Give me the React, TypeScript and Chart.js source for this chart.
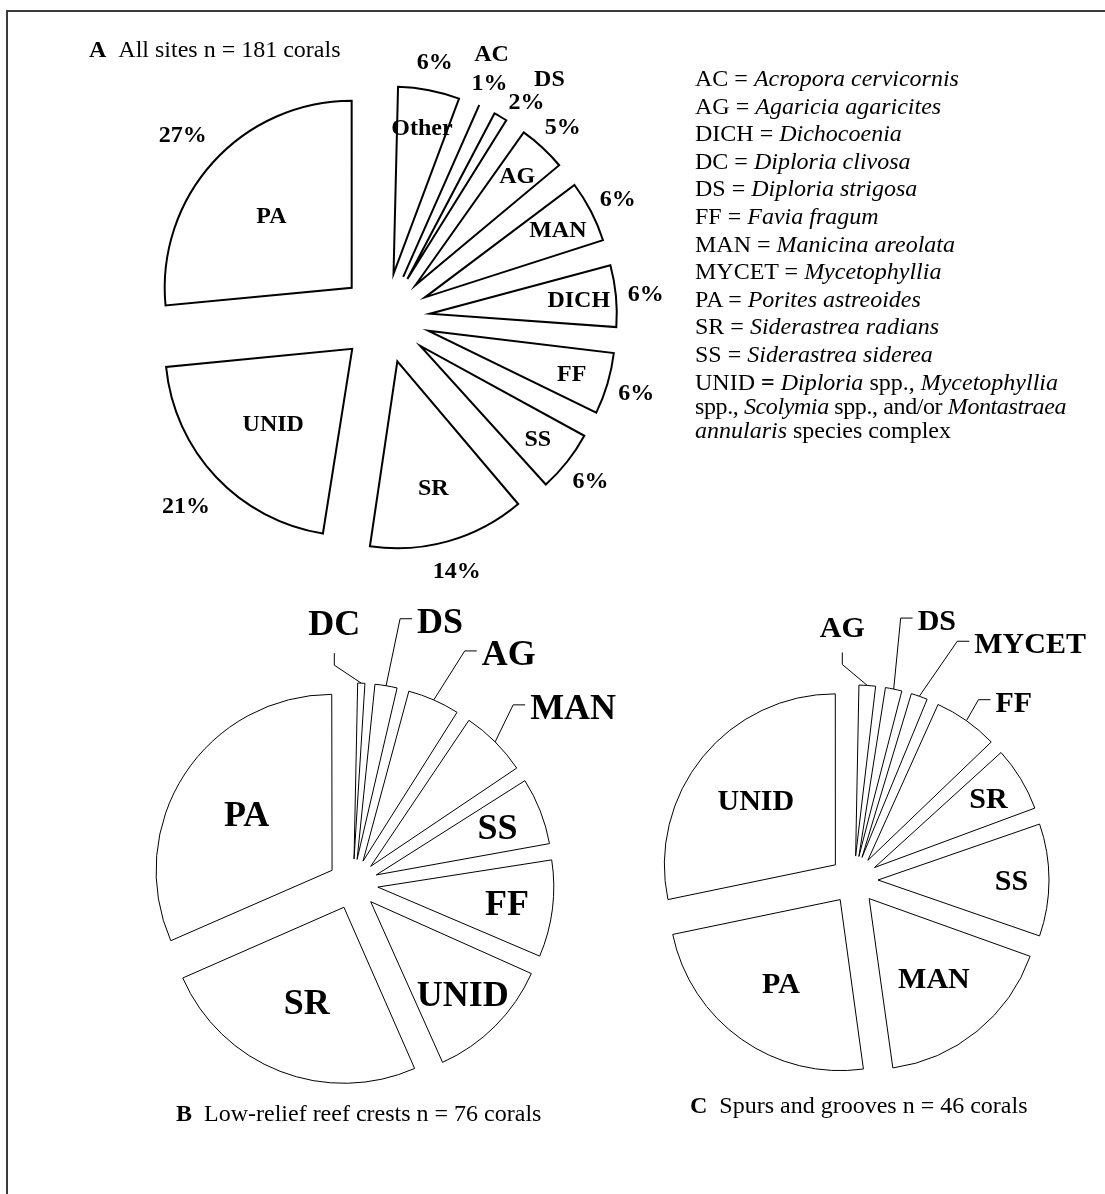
import React, { useEffect, useRef } from "react";
import { Chart, registerables } from "chart.js";

Chart.register(...registerables);

const SERIF = '"Liberation Serif", "Times New Roman", Times, serif';

// ---------------- Data ----------------
const allSitesCategories = ["Other", "AC", "DS", "AG", "MAN", "DICH", "FF", "SS", "SR", "UNID", "PA"];
const allSitesCorals = [11, 2, 4, 9, 11, 11, 11, 11, 25, 38, 48];

const reefCrestCategories = ["DC", "DS", "AG", "MAN", "SS", "FF", "UNID", "SR", "PA"];
const reefCrestCorals = [1, 2, 4, 5, 5, 7, 9, 19, 24];

const spurGrooveCategories = ["AG", "DS", "MYCET", "FF", "SR", "SS", "MAN", "PA", "UNID"];
const spurGrooveCorals = [1, 1, 1, 3, 3, 5, 8, 11, 13];

const legendCodes = ["AC", "AG", "DICH", "DC", "DS", "FF", "MAN", "MYCET", "PA", "SR", "SS"];
const legendSpecies = [
  "Acropora cervicornis",
  "Agaricia agaricites",
  "Dichocoenia",
  "Diploria clivosa",
  "Diploria strigosa",
  "Favia fragum",
  "Manicina areolata",
  "Mycetophyllia",
  "Porites astreoides",
  "Siderastrea radians",
  "Siderastrea siderea",
];

// ---------------- Layout (label placement helpers) ----------------
type Leader = { dx: number; dy: number; dir: "up" | "right" } | null;
const reefCrestLeaders: Leader[] = [
  { dx: -27, dy: -18, dir: "up" },
  { dx: 14, dy: -67, dir: "right" },
  { dx: 31, dy: -49, dir: "right" },
  { dx: 18, dy: -37, dir: "right" },
];
const spurGrooveLeaders: Leader[] = [
  { dx: -25, dy: -21, dir: "up" },
  { dx: 7, dy: -71, dir: "right" },
  { dx: 38, dy: -55, dir: "right" },
  { dx: 12, dy: -21, dir: "right" },
];
// tiny slices of pie A: nudge of the percent label, and name offset relative to it
const outsidePctNudge: Record<string, [number, number]> = { AC: [0, 0], DS: [13, 7] };
const outsideNameNudge: Record<string, [number, number]> = { AC: [2, -29], DS: [23, -23] };

type LabelFn = (chart: any) => void;

function sliceGeom(arc: any, d: number) {
  const mid = (arc.startAngle + arc.endAngle) / 2;
  const ux = Math.cos(mid);
  const uy = Math.sin(mid);
  return { ux, uy, ax: arc.x + ux * d, ay: arc.y + uy * d };
}

function allSitesLabels(R: number, d: number): LabelFn {
  return (chart: any) => {
    const ctx = chart.ctx as CanvasRenderingContext2D;
    const meta = chart.getDatasetMeta(0);
    const total = allSitesCorals.reduce((a, b) => a + b, 0);
    const fs = 24;
    ctx.save();
    ctx.fillStyle = "#000";
    ctx.font = `bold ${fs}px ${SERIF}`;
    ctx.textAlign = "center";
    ctx.textBaseline = "alphabetic";
    meta.data.forEach((arc: any, i: number) => {
      const { ux, uy, ax, ay } = sliceGeom(arc, d);
      const frac = allSitesCorals[i] / total;
      const pct = Math.round(frac * 100) + "%";
      const pos = (k: number): [number, number] => [ax + ux * R * k, ay + uy * R * k];
      const put = (t: string, p: [number, number]) => ctx.fillText(t, p[0], p[1] + fs * 0.33);
      if (frac < 0.03) {
        const base = pos(1.14);
        const pn = outsidePctNudge[allSitesCategories[i]] || [0, 0];
        const p: [number, number] = [base[0] + pn[0], base[1] + pn[1]];
        put(pct, p);
        const n = outsideNameNudge[allSitesCategories[i]] || [0, -28];
        put(allSitesCategories[i], [p[0] + n[0], p[1] + n[1]]);
      } else {
        put(allSitesCategories[i], pos(frac > 0.2 ? 0.58 : frac > 0.1 ? 0.7 : 0.8));
        put(pct, pos(frac > 0.2 ? 1.22 : 1.16));
      }
    });
    ctx.restore();
  };
}

function siteLabels(
  categories: string[],
  values: number[],
  leaders: Leader[],
  R: number,
  d: number,
  fs: number,
  inner: (frac: number) => number
): LabelFn {
  return (chart: any) => {
    const ctx = chart.ctx as CanvasRenderingContext2D;
    const meta = chart.getDatasetMeta(0);
    const total = values.reduce((a, b) => a + b, 0);
    ctx.save();
    ctx.fillStyle = "#000";
    ctx.strokeStyle = "#000";
    ctx.lineWidth = 1;
    ctx.font = `bold ${fs}px ${SERIF}`;
    ctx.textBaseline = "alphabetic";
    meta.data.forEach((arc: any, i: number) => {
      const { ux, uy, ax, ay } = sliceGeom(arc, d);
      const lead = leaders[i];
      if (lead) {
        const px = ax + ux * R;
        const py = ay + uy * R;
        const ex = px + lead.dx;
        const ey = py + lead.dy;
        ctx.beginPath();
        ctx.moveTo(px, py);
        ctx.lineTo(ex, ey);
        if (lead.dir === "up") {
          ctx.lineTo(ex, ey - 12);
          ctx.stroke();
          ctx.textAlign = "center";
          ctx.fillText(categories[i], ex, ey - 12 - 0.5 * fs);
        } else {
          ctx.lineTo(ex + 12, ey);
          ctx.stroke();
          ctx.textAlign = "left";
          ctx.fillText(categories[i], ex + 17, ey + 2 + 0.33 * fs);
        }
      } else {
        const k = inner(values[i] / total);
        ctx.textAlign = "center";
        ctx.fillText(categories[i], ax + ux * R * k, ay + uy * R * k + 0.33 * fs);
      }
    });
    ctx.restore();
  };
}

type PieProps = {
  categories: string[];
  values: number[];
  cx: number;
  cy: number;
  size: number;
  radius: number;
  explode: number;
  lineWidth: number;
  labels: LabelFn;
};

function ExplodedPie({ categories, values, cx, cy, size, radius, explode, lineWidth, labels }: PieProps) {
  const ref = useRef<HTMLCanvasElement>(null);
  useEffect(() => {
    const canvas = ref.current;
    if (!canvas) return;
    const keepRadius = {
      id: "keepRadius",
      beforeDatasetDraw(chart: any) {
        chart.getDatasetMeta(0).data.forEach((arc: any) => {
          const fix = 1 - Math.sin(Math.min(Math.PI, arc.circumference || 0));
          arc.outerRadius = radius - explode * fix;
        });
      },
    };
    const sliceText = {
      id: "sliceText",
      afterDatasetsDraw(chart: any) {
        labels(chart);
      },
    };
    const chart = new Chart(canvas, {
      type: "pie",
      data: {
        labels: categories,
        datasets: [
          {
            data: values,
            backgroundColor: "#ffffff",
            borderColor: "#000000",
            borderWidth: lineWidth,
            borderJoinStyle: "miter",
            offset: explode * 4,
          } as any,
        ],
      },
      options: {
        responsive: false,
        maintainAspectRatio: false,
        animation: false,
        devicePixelRatio: 1,
        radius,
        events: [],
        layout: { padding: 0 },
        plugins: { legend: { display: false }, tooltip: { enabled: false } },
      } as any,
      plugins: [keepRadius, sliceText],
    });
    return () => chart.destroy();
  }, []);
  return (
    <canvas
      ref={ref}
      width={size}
      height={size}
      style={{ position: "absolute", left: cx - size / 2, top: cy - size / 2, width: size, height: size }}
    />
  );
}

export default function App() {
  const A = { cx: 385, cy: 318, R: 187, d: 45 };
  const B = { cx: 353, cy: 884, R: 176, d: 25 };
  const C = { cx: 854, cy: 880, R: 171, d: 24 };
  return (
    <div
      style={{
        position: "absolute",
        left: 0,
        top: 0,
        width: 1105,
        height: 1194,
        overflow: "hidden",
        background: "#fff",
        fontFamily: SERIF,
        color: "#000",
      }}
    >
      <div
        style={{
          position: "absolute",
          left: 6,
          top: 10,
          width: 1120,
          height: 1220,
          borderTop: "2px solid #3a3a3a",
          borderLeft: "2px solid #3a3a3a",
        }}
      />
      <ExplodedPie
        categories={allSitesCategories}
        values={allSitesCorals}
        cx={A.cx}
        cy={A.cy}
        size={680}
        radius={A.R}
        explode={A.d}
        lineWidth={2}
        labels={allSitesLabels(A.R, A.d)}
      />
      <ExplodedPie
        categories={reefCrestCategories}
        values={reefCrestCorals}
        cx={B.cx}
        cy={B.cy}
        size={600}
        radius={B.R}
        explode={B.d}
        lineWidth={1}
        labels={siteLabels(reefCrestCategories, reefCrestCorals, reefCrestLeaders, B.R, B.d, 36, (f) =>
          f > 0.2 ? 0.58 : 0.74
        )}
      />
      <ExplodedPie
        categories={spurGrooveCategories}
        values={spurGrooveCorals}
        cx={C.cx}
        cy={C.cy}
        size={600}
        radius={C.R}
        explode={C.d}
        lineWidth={1}
        labels={siteLabels(spurGrooveCategories, spurGrooveCorals, spurGrooveLeaders, C.R, C.d, 30, (f) =>
          f > 0.15 ? 0.6 : 0.78
        )}
      />
      <div style={{ position: "absolute", left: 89, top: 37, fontSize: 24, lineHeight: "24px", whiteSpace: "nowrap" }}>
        <b>A</b>
        {"\u00a0\u00a0"}All sites n = 181 corals
      </div>
      <div style={{ position: "absolute", left: 695, top: 66, fontSize: 24, whiteSpace: "nowrap" }}>
        {legendCodes.map((c, i) => (
          <div key={c} style={{ lineHeight: "24px", marginBottom: 3.6 }}>
            {c} = <i>{legendSpecies[i]}</i>
          </div>
        ))}
        <div style={{ lineHeight: "24px" }}>
          UNID <b>=</b> <i>Diploria</i> spp., <i>Mycetophyllia</i>
          <br />
          <span style={{ letterSpacing: "-0.4px" }}>
            spp., <i>Scolymia</i> spp., and/or <i>Montastraea</i>
          </span>
          <br />
          <i>annularis</i> species complex
        </div>
      </div>
      <div style={{ position: "absolute", left: 176, top: 1101, fontSize: 24, lineHeight: "24px", whiteSpace: "nowrap" }}>
        <b>B</b>
        {"\u00a0\u00a0"}Low-relief reef crests n = 76 corals
      </div>
      <div style={{ position: "absolute", left: 690, top: 1093, fontSize: 24, lineHeight: "24px", whiteSpace: "nowrap" }}>
        <b>C</b>
        {"\u00a0\u00a0"}Spurs and grooves n = 46 corals
      </div>
    </div>
  );
}
